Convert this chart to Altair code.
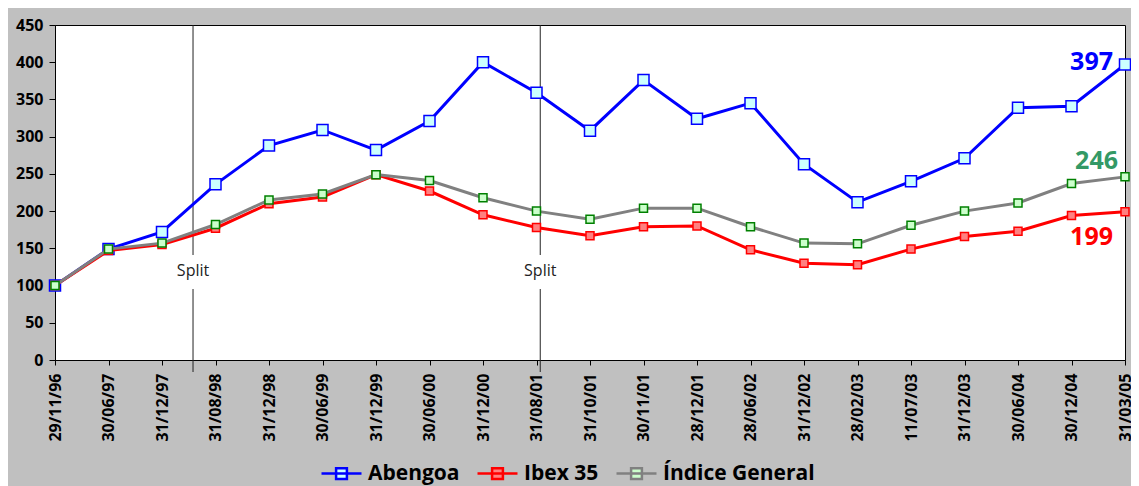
import json
import altair as alt
import pandas as pd

dates = ["29/11/96", "30/06/97", "31/12/97", "31/08/98", "31/12/98", "30/06/99",
         "31/12/99", "30/06/00", "31/12/00", "31/08/01", "31/10/01", "30/11/01",
         "28/12/01", "28/06/02", "31/12/02", "28/02/03", "11/07/03", "31/12/03",
         "30/06/04", "30/12/04", "31/03/05"]
abengoa = [100, 149, 172, 236, 288, 309, 282, 321, 400, 359, 308, 376, 324, 345,
           263, 212, 240, 271, 339, 341, 397]
ibex = [100, 147, 155, 177, 210, 219, 249, 227, 195, 178, 167, 179, 180, 148,
        130, 128, 149, 166, 173, 194, 199]
general = [100, 149, 157, 182, 215, 223, 249, 241, 218, 200, 189, 204, 204, 179,
           157, 156, 181, 200, 211, 237, 246]
series_names = ["Abengoa", "Ibex 35", "Índice General"]
split_positions = [2.58, 9.07]
split_labels = ["Split", "Split"]

line_colors = ["#0000FF", "#FF0000", "#808080"]
marker_fill = ["#CCFFFF", "#FF8080", "#CCFFCC"]
marker_stroke = ["#0000FF", "#FF0000", "#008000"]
label_colors = ["#0000FF", "#FF0000", "#339966"]
marker_sizes = [121, 64, 64]
label_offsets = [(-12, -2), (-12, 25), (-7, -16)]

rows = []
for name, vals in zip(series_names, [abengoa, ibex, general]):
    for i, (d, v) in enumerate(zip(dates, vals)):
        rows.append({"idx": i, "date": d, "series": name, "series2": name, "value": v})
df = pd.DataFrame(rows)
split_df = pd.DataFrame({"pos": split_positions, "label": split_labels})

FONT = "Open Sans"
label_expr = json.dumps(dates) + "[datum.value]"

xscale = alt.Scale(domain=[0, 20], nice=False, zero=False)
yscale = alt.Scale(domain=[0, 450], nice=False)
xaxis = alt.Axis(values=list(range(21)), labelExpr=label_expr, title=None,
                 labelAngle=270, labelAlign="right", labelBaseline="middle",
                 labelFont=FONT, labelFontSize=16, labelFontWeight="bold",
                 labelColor="black", labelPadding=8, labelFlush=False,
                 labelOverlap=False, tickSize=5, tickColor="black",
                 domainColor="black", grid=False)
yaxis = alt.Axis(values=list(range(0, 451, 50)), title=None, labelFont=FONT,
                 labelFontSize=16, labelFontWeight="bold", labelColor="black",
                 labelPadding=6, tickSize=6, tickColor="black",
                 domainColor="black", grid=False)

X = alt.X("idx:Q", scale=xscale, axis=xaxis)
Y = alt.Y("value:Q", scale=yscale, axis=yaxis)

legend_single = alt.Legend(
    orient="none", legendX=265, legendY=427, direction="horizontal", title=None,
    symbolType="M-1,0H1M-0.27,-0.27H0.27V0.27H-0.27Z", symbolSize=1600,
    symbolStrokeWidth=2.5, symbolOpacity=1, labelOffset=5,
    labelFont=FONT, labelFontSize=21, labelFontWeight="bold", labelColor="black",
    columnPadding=12, padding=0)

color_enc = alt.Color("series:N", scale=alt.Scale(domain=series_names, range=line_colors),
                      legend=legend_single)
fill_enc = alt.Fill("series:N", scale=alt.Scale(domain=series_names, range=marker_fill),
                    legend=legend_single)
stroke_enc = alt.Stroke("series2:N", scale=alt.Scale(range=marker_stroke), legend=None)

base = alt.Chart(df)

split_x = alt.X("pos:Q", scale=xscale, axis=xaxis)
splits_top = alt.Chart(split_df).mark_rule(color="#222222", strokeWidth=1).encode(
    x=split_x, y=alt.value(0), y2=alt.value(230))
splits_bottom = alt.Chart(split_df).mark_rule(color="#222222", strokeWidth=1).encode(
    x=split_x, y=alt.value(264), y2=alt.value(347))
split_text = alt.Chart(split_df).mark_text(font=FONT, fontSize=16, color="#222222",
                                           baseline="middle", align="center").encode(
    x=split_x, y=alt.value(246), text="label:N")

layers = [splits_top, splits_bottom, split_text]
for name, size in zip(series_names, marker_sizes):
    sub = base.transform_filter(alt.datum.series == name)
    layers.append(sub.mark_line(strokeWidth=3).encode(x=X, y=Y, color=color_enc))
    layers.append(sub.mark_square(size=size, strokeWidth=1.5, opacity=1).encode(
        x=X, y=Y, fill=fill_enc, stroke=stroke_enc))

for name, col, (dx, dy) in zip(series_names, label_colors, label_offsets):
    layers.append(base.transform_filter(
        (alt.datum.series == name) & (alt.datum.idx == 20)).mark_text(
        align="right", baseline="middle", dx=dx, dy=dy, font=FONT, fontSize=25,
        fontWeight="bold", color=col).encode(x=X, y=Y, text=alt.Text("value:Q", format="d")))

chart = alt.layer(*layers).properties(
    width=1070, height=335, background="#C0C0C0",
    padding={"left": 47, "top": 17, "right": 6, "bottom": 126},
    autosize=alt.AutoSizeParams(type="none"),
).configure_view(fill="white", stroke="black", strokeWidth=1)

chart.save("out.html", embed_options={"renderer": "svg", "actions": False})
